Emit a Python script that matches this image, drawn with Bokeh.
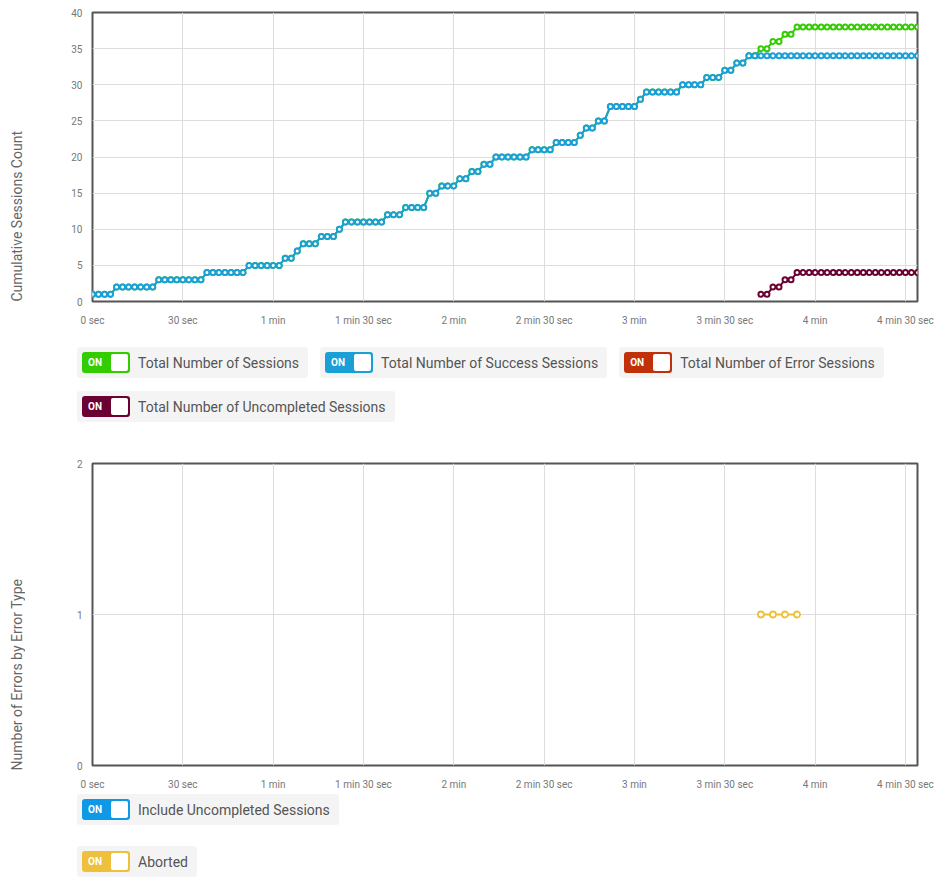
from bokeh.plotting import figure
from bokeh.layouts import column, row
from bokeh.models import Range1d, FixedTicker, Div
from bokeh.embed import file_html
from bokeh.resources import INLINE

# ---------------- data ----------------
times = [0, 2, 4, 6, 8, 10, 12, 14, 16, 18, 20, 22, 24, 26, 28, 30, 32, 34, 36, 38,
         40, 42, 44, 46, 48, 50, 52, 54, 56, 58, 60, 62, 64, 66, 68, 70, 72, 74, 76, 78,
         80, 82, 84, 86, 88, 90, 92, 94, 96, 98, 100, 102, 104, 106, 108, 110, 112, 114, 116, 118,
         120, 122, 124, 126, 128, 130, 132, 134, 136, 138, 140, 142, 144, 146, 148, 150, 152, 154, 156, 158,
         160, 162, 164, 166, 168, 170, 172, 174, 176, 178, 180, 182, 184, 186, 188, 190, 192, 194, 196, 198,
         200, 202, 204, 206, 208, 210, 212, 214, 216, 218, 220, 222, 224, 226, 228, 230, 232, 234, 236, 238,
         240, 242, 244, 246, 248, 250, 252, 254, 256, 258, 260, 262, 264, 266, 268, 270, 272, 274]

success = [1, 1, 1, 1, 2, 2, 2, 2, 2, 2, 2, 3, 3, 3, 3, 3, 3, 3, 3, 4,
           4, 4, 4, 4, 4, 4, 5, 5, 5, 5, 5, 5, 6, 6, 7, 8, 8, 8, 9, 9,
           9, 10, 11, 11, 11, 11, 11, 11, 11, 12, 12, 12, 13, 13, 13, 13, 15, 15, 16, 16,
           16, 17, 17, 18, 18, 19, 19, 20, 20, 20, 20, 20, 20, 21, 21, 21, 21, 22, 22, 22,
           22, 23, 24, 24, 25, 25, 27, 27, 27, 27, 27, 28, 29, 29, 29, 29, 29, 29, 30, 30,
           30, 30, 31, 31, 31, 32, 32, 33, 33, 34, 34, 34, 34, 34, 34, 34, 34, 34, 34, 34,
           34, 34, 34, 34, 34, 34, 34, 34, 34, 34, 34, 34, 34, 34, 34, 34, 34, 34]

total = [1, 1, 1, 1, 2, 2, 2, 2, 2, 2, 2, 3, 3, 3, 3, 3, 3, 3, 3, 4,
         4, 4, 4, 4, 4, 4, 5, 5, 5, 5, 5, 5, 6, 6, 7, 8, 8, 8, 9, 9,
         9, 10, 11, 11, 11, 11, 11, 11, 11, 12, 12, 12, 13, 13, 13, 13, 15, 15, 16, 16,
         16, 17, 17, 18, 18, 19, 19, 20, 20, 20, 20, 20, 20, 21, 21, 21, 21, 22, 22, 22,
         22, 23, 24, 24, 25, 25, 27, 27, 27, 27, 27, 28, 29, 29, 29, 29, 29, 29, 30, 30,
         30, 30, 31, 31, 31, 32, 32, 33, 33, 34, 34, 35, 35, 36, 36, 37, 37, 38, 38, 38,
         38, 38, 38, 38, 38, 38, 38, 38, 38, 38, 38, 38, 38, 38, 38, 38, 38, 38]

uncompleted_times = [222, 224, 226, 228, 230, 232, 234, 236, 238, 240, 242, 244, 246, 248,
                     250, 252, 254, 256, 258, 260, 262, 264, 266, 268, 270, 272, 274]
uncompleted = [1, 1, 2, 2, 3, 3, 4, 4, 4, 4, 4, 4, 4, 4,
               4, 4, 4, 4, 4, 4, 4, 4, 4, 4, 4, 4, 4]

error_times = []
error = []

aborted_times = [222, 226, 230, 234]
aborted = [1, 1, 1, 1]

x_ticks = [0, 30, 60, 90, 120, 150, 180, 210, 240, 270]
x_tick_labels = ["0 sec", "30 sec", "1 min", "1 min 30 sec", "2 min", "2 min 30 sec",
                 "3 min", "3 min 30 sec", "4 min", "4 min 30 sec"]
y_ticks_top = [0, 5, 10, 15, 20, 25, 30, 35, 40]
y_ticks_bottom = [0, 1, 2]

GREEN = "#33cc00"
BLUE = "#1a9fd6"
RED = "#c2300a"
PURPLE = "#6b0032"
YELLOW = "#eec03c"
BLUE2 = "#0f98e6"

FONT = "Roboto"
LABEL_W = 30


def style(p, yticks):
    p.outline_line_color = "#555555"
    p.outline_line_width = 2
    p.xaxis.ticker = FixedTicker(ticks=x_ticks)
    p.xaxis.major_label_overrides = {t: l for t, l in zip(x_ticks, x_tick_labels)}
    p.yaxis.ticker = FixedTicker(ticks=yticks)
    for ax in (p.xaxis[0], p.yaxis[0]):
        ax.axis_line_color = None
        ax.major_tick_line_color = None
        ax.minor_tick_line_color = None
        ax.major_label_text_font = FONT
        ax.major_label_text_font_size = "10px"
        ax.major_label_text_color = "#777777"
    p.xaxis.major_label_standoff = 7
    p.yaxis.major_label_standoff = 4
    p.xgrid.ticker = FixedTicker(ticks=x_ticks)
    p.ygrid.ticker = FixedTicker(ticks=yticks)
    p.grid.grid_line_color = "#dddddd"
    p.grid.grid_line_width = 1
    p.background_fill_color = "white"
    p.border_fill_color = "white"


def series(p, x, y, color, size=5, lw=2):
    if len(x) == 0:
        return
    p.line(x, y, line_color=color, line_width=lw)
    p.scatter(x, y, marker="circle", size=size, fill_color="white",
              line_color=color, line_width=lw)


def side_label(text, height, bottom):
    html = (f'<div style="position:relative;width:{LABEL_W}px;height:{height}px;">'
            f'<div style="position:absolute;left:9px;bottom:{bottom}px;writing-mode:vertical-rl;'
            f'transform:rotate(180deg);font-family:{FONT};font-size:14px;line-height:16px;'
            f'color:#666666;white-space:nowrap;">{text}</div></div>')
    return Div(text=html, width=LABEL_W, height=height, margin=0)


# ---------------- top chart ----------------
H1 = 338
p1 = figure(width=940 - LABEL_W, height=H1, output_backend="svg", toolbar_location=None,
            x_range=Range1d(0, 274), y_range=Range1d(0, 40),
            min_border_left=92 - LABEL_W, min_border_right=23, min_border_top=12,
            min_border_bottom=37)
style(p1, y_ticks_top)
series(p1, times, total, GREEN)
series(p1, times, success, BLUE)
series(p1, error_times, error, RED)
series(p1, uncompleted_times, uncompleted, PURPLE)

# ---------------- bottom chart ----------------
H2 = 344
p2 = figure(width=940 - LABEL_W, height=H2, output_backend="svg", toolbar_location=None,
            x_range=Range1d(0, 274), y_range=Range1d(0, 2),
            min_border_left=92 - LABEL_W, min_border_right=23, min_border_top=13,
            min_border_bottom=29)
style(p2, y_ticks_bottom)
series(p2, aborted_times, aborted, YELLOW, size=6, lw=1.8)

lab1 = side_label("Cumulative Sessions Count", H1, 36)
lab2 = side_label("Number of Errors by Error Type", H2, 24)


# ---------------- toggle legends ----------------
def toggle(color, label):
    return (
        '<div style="display:flex;align-items:center;background:#f4f4f4;border-radius:3px;'
        'height:31px;box-sizing:border-box;padding:0 9px 0 5px;">'
        f'<div style="position:relative;width:48px;height:21px;background:{color};'
        'border-radius:3px;box-sizing:border-box;flex:none;">'
        '<span style="position:absolute;left:6px;top:0;line-height:21px;color:#ffffff;'
        f'font-family:{FONT};font-size:10px;font-weight:bold;">ON</span>'
        '<div style="position:absolute;right:2px;top:2px;width:17px;height:17px;'
        'background:#ffffff;border-radius:2px;"></div></div>'
        f'<span style="margin-left:8px;font-family:{FONT};font-size:14px;color:#555555;'
        f'white-space:nowrap;">{label}</span></div>'
    )


def trow(items, top):
    return (f'<div style="display:flex;gap:12px;margin-top:{top}px;">' + "".join(items) + '</div>')


html1 = ('<div style="padding-left:77px;">'
         + trow([toggle(GREEN, "Total Number of Sessions"),
                 toggle(BLUE, "Total Number of Success Sessions"),
                 toggle(RED, "Total Number of Error Sessions")], 9)
         + trow([toggle(PURPLE, "Total Number of Uncompleted Sessions")], 13)
         + '</div>')
html2 = ('<div style="padding-left:77px;">'
         + trow([toggle(BLUE2, "Include Uncompleted Sessions")], 0)
         + trow([toggle(YELLOW, "Aborted")], 21)
         + '</div>')

d1 = Div(text=html1, width=940, height=112, margin=0)
d2 = Div(text=html2, width=940, height=84, margin=0)

layout = column(row(lab1, p1, spacing=0), d1, row(lab2, p2, spacing=0), d2, spacing=0)
open("out.html", "w").write(file_html(layout, INLINE))
